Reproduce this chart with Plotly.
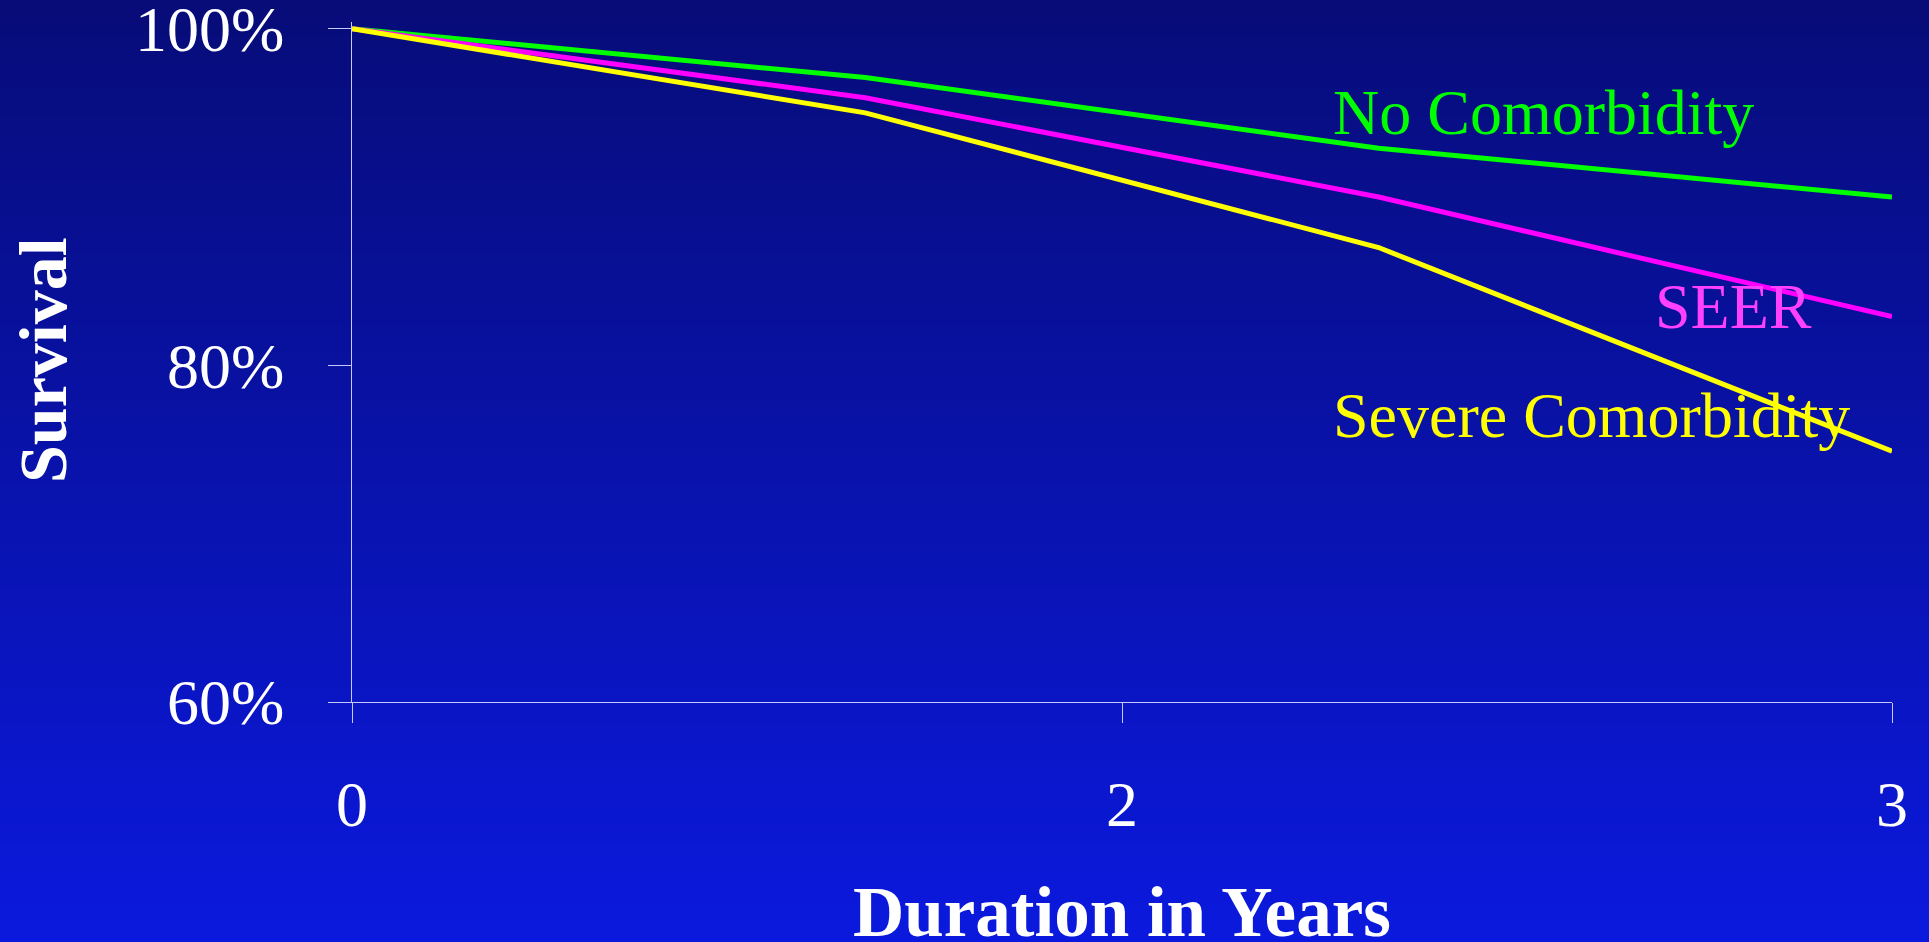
import base64, struct, zlib
import plotly.graph_objects as go

# ---- data ----
years = [0, 1, 2, 3]                       # equally spaced time points
no_comorbidity = [100, 97.1, 92.9, 90.0]
seer = [100, 95.9, 90.0, 82.9]
severe_comorbidity = [100, 95.0, 87.0, 74.9]
x_tickvals = [0, 1.5, 3]
x_ticktext = ["0", "2", "3"]
y_tickvals = [60, 80, 100]
y_ticktext = ["60%", "80%", "100%"]

W, H = 1929, 942
ML, MR, MT, MB = 352, 37, 22, 240
PW, PH = W - ML - MR, H - MT - MB


def gradient_png(h, top, bot):
    raw = b""
    for i in range(h):
        t = i / (h - 1)
        px = bytes(round(top[k] + (bot[k] - top[k]) * t) for k in range(3))
        raw += b"\x00" + px * 2
    def chunk(typ, data):
        return (struct.pack(">I", len(data)) + typ + data +
                struct.pack(">I", zlib.crc32(typ + data) & 0xFFFFFFFF))
    ihdr = struct.pack(">IIBBBBB", 2, h, 8, 2, 0, 0, 0)
    png = (b"\x89PNG\r\n\x1a\n" + chunk(b"IHDR", ihdr) +
           chunk(b"IDAT", zlib.compress(raw)) + chunk(b"IEND", b""))
    return "data:image/png;base64," + base64.b64encode(png).decode()


bg = gradient_png(H, (7, 12, 120), (11, 25, 222))

fig = go.Figure()
for name, vals, col in [("No Comorbidity", no_comorbidity, "#00ff00"),
                        ("SEER", seer, "#ff00ff"),
                        ("Severe Comorbidity", severe_comorbidity, "#ffff00")]:
    fig.add_trace(go.Scatter(x=years, y=vals, mode="lines", name=name,
                             line=dict(color=col, width=5), showlegend=False))

serif = "Liberation Serif, Times New Roman, serif"
axcol = "#c8c8ff"


def py(p):  # pixel row -> paper y
    return (H - MB - p) / PH


def px(p):  # pixel column -> paper x
    return (p - ML) / PW


fig.update_layout(
    width=W, height=H,
    margin=dict(l=ML, r=MR, t=MT, b=MB, autoexpand=False),
    paper_bgcolor="rgb(9,18,171)",
    plot_bgcolor="rgba(0,0,0,0)",
    images=[dict(source=bg, xref="paper", yref="paper",
                 x=-ML / PW, y=1 + MT / PH, sizex=W / PW, sizey=H / PH,
                 xanchor="left", yanchor="top", sizing="stretch", layer="below")],
    xaxis=dict(range=[0, 3], tickvals=x_tickvals, ticktext=x_ticktext,
               automargin=False, ticklabeloverflow="allow",
               showgrid=False, zeroline=False, showline=True, linecolor=axcol,
               linewidth=1, ticks="outside", ticklen=20, tickcolor=axcol,
               tickwidth=1, ticklabelstandoff=26,
               tickfont=dict(family=serif, size=64, color="white")),
    yaxis=dict(range=[60, 100.4], tickvals=y_tickvals, ticktext=y_ticktext,
               automargin=False, ticklabeloverflow="allow",
               showgrid=False, zeroline=False, showline=True, linecolor=axcol,
               linewidth=1, ticks="outside", ticklen=23, tickcolor=axcol,
               tickwidth=1, ticklabelstandoff=31,
               tickfont=dict(family=serif, size=64, color="white")),
    annotations=[
        dict(text="<b>Duration in Years</b>", x=0.5, y=py(912), xref="paper",
             yref="paper", xanchor="center", yanchor="middle", showarrow=False,
             font=dict(family=serif, size=71, color="white")),
        dict(text="<b>Survival</b>", x=px(43), y=py(360), xref="paper",
             yref="paper", xanchor="center", yanchor="middle", showarrow=False,
             textangle=-90,
             font=dict(family=serif, size=68, color="white")),
        dict(text="No Comorbidity", x=1.907, y=95.0, xref="x", yref="y",
             xanchor="left", yanchor="middle", showarrow=False,
             font=dict(family=serif, size=64, color="#00ff00")),
        dict(text="SEER", x=2.535, y=83.5, xref="x", yref="y",
             xanchor="left", yanchor="middle", showarrow=False,
             font=dict(family=serif, size=64, color="#ff40ff")),
        dict(text="Severe Comorbidity", x=1.907, y=77.0, xref="x", yref="y",
             xanchor="left", yanchor="middle", showarrow=False,
             font=dict(family=serif, size=64, color="#ffff00")),
    ],
)

fig.write_html(
    "out.html",
    config={"displayModeBar": False},
    post_script="document.body.style.margin='0';document.body.style.overflow='hidden';",
)
